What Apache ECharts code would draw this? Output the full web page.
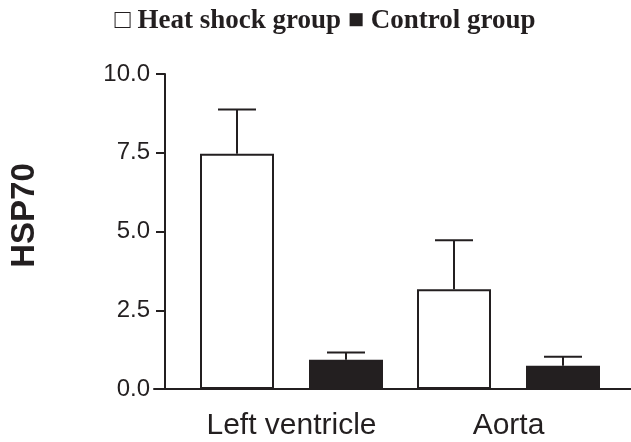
<!DOCTYPE html>
<html>
<head>
<meta charset="utf-8">
<script src="https://cdn.jsdelivr.net/npm/echarts@6/dist/echarts.min.js"></script>
<style>
  html, body { margin: 0; padding: 0; background: #fff; }
  #main { width: 631px; height: 442px; }
</style>
</head>
<body>
<div id="main"></div>
<script>
const categories = ['Left ventricle', 'Aorta'];
const heatMean = [7.47, 3.17];
const heatErr = [1.40, 1.55];
const controlMean = [0.93, 0.74];
const controlErr = [0.23, 0.28];
const yTicks = [0, 2.5, 5, 7.5, 10];

const ink = '#231f20';
const barWidth = 74;
const barGapPx = 35;

// error bar (upper whisker only) drawn through the category scale
function errorBars(dir) {
  return function (params, api) {
    const c = api.coord([api.value(0), api.value(1)]);
    const t = api.coord([api.value(0), api.value(2)]);
    const x = c[0] + dir * (barWidth + barGapPx) / 2;
    const style = { stroke: ink, lineWidth: 2 };
    return {
      type: 'group',
      children: [
        { type: 'line', shape: { x1: x, y1: c[1], x2: x, y2: t[1] }, style },
        { type: 'line', shape: { x1: x - 19, y1: t[1], x2: x + 19, y2: t[1] }, style }
      ]
    };
  };
}

const chart = echarts.init(document.getElementById('main'));

chart.setOption({
  animation: false,
  backgroundColor: '#fff',
  title: {
    text: '\u25A1 Heat shock group \u25A0 Control group',
    left: 320,
    textAlign: 'center',
    top: 3,
    textStyle: {
      fontFamily: 'Liberation Serif, Times New Roman, serif',
      fontWeight: 'bold',
      fontSize: 27,
      color: ink
    }
  },
  grid: [
    { left: 181, right: 14, top: 74, bottom: 53 },
    { left: 154, right: 0, top: 74, bottom: 53 }
  ],
  xAxis: [
    {
      type: 'category',
      gridIndex: 0,
      data: categories,
      axisLine: { show: false },
      axisTick: { show: false },
      axisLabel: {
        interval: 0,
        hideOverlap: false,
        margin: 22,
        fontSize: 30,
        fontFamily: 'Liberation Sans, Arial, sans-serif',
        color: ink
      }
    },
    {
      type: 'value',
      gridIndex: 1,
      min: 0,
      max: 1,
      axisLine: { show: true, lineStyle: { color: ink, width: 2 } },
      axisTick: { show: false },
      axisLabel: { show: false },
      splitLine: { show: false }
    }
  ],
  yAxis: [
    {
      type: 'value',
      gridIndex: 0,
      min: yTicks[0],
      max: yTicks[yTicks.length - 1],
      interval: 2.5,
      offset: 18,
      name: 'HSP70',
      nameLocation: 'middle',
      nameGap: 124,
      nameTextStyle: {
        fontFamily: 'Liberation Sans, Arial, sans-serif',
        fontWeight: 'bold',
        fontSize: 33,
        color: ink,
        padding: [0, 0, 0, 32]
      },
      axisLine: { show: true, lineStyle: { color: ink, width: 2 } },
      axisTick: { show: true, length: 9, lineStyle: { color: ink, width: 2 } },
      axisLabel: {
        margin: 15,
        fontSize: 24,
        fontFamily: 'Liberation Sans, Arial, sans-serif',
        color: ink,
        formatter: v => v.toFixed(1)
      },
      splitLine: { show: false }
    },
    { type: 'value', gridIndex: 1, min: 0, max: 1, show: false }
  ],
  series: [
    {
      name: 'Heat shock group',
      type: 'bar',
      data: heatMean,
      barWidth: barWidth,
      barGap: (barGapPx / barWidth * 100) + '%',
      itemStyle: { color: '#fff', borderColor: ink, borderWidth: 2 }
    },
    {
      name: 'Control group',
      type: 'bar',
      data: controlMean,
      barWidth: barWidth,
      itemStyle: { color: ink, borderColor: ink, borderWidth: 2 }
    },
    {
      type: 'custom',
      renderItem: errorBars(-1),
      data: heatMean.map((m, i) => [i, m, m + heatErr[i]]),
      z: 5
    },
    {
      type: 'custom',
      renderItem: errorBars(1),
      data: controlMean.map((m, i) => [i, m, m + controlErr[i]]),
      z: 5
    }
  ]
});
</script>
</body>
</html>
